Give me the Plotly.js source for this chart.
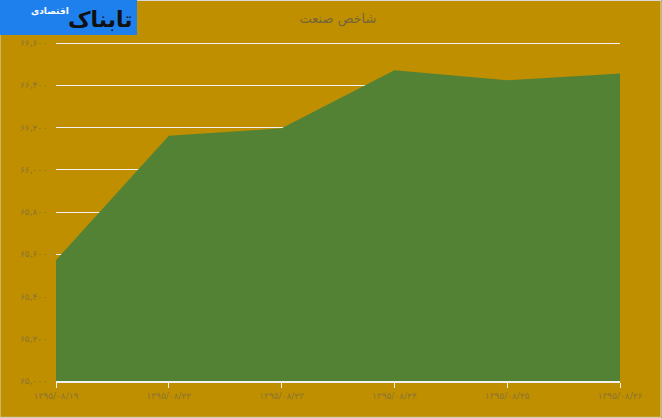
<!DOCTYPE html>
<html>
<head>
<meta charset="utf-8">
<script src="https://cdn.plot.ly/plotly-3.0.1.min.js"></script>
<style>
  html, body { margin: 0; padding: 0; }
  #myDiv { width: 662px; height: 418px; }
</style>
</head>
<body>
<div id="myDiv"></div>
<script>
var dates = ['۱۳۹۵/۰۸/۱۹', '۱۳۹۵/۰۸/۲۲', '۱۳۹۵/۰۸/۲۳', '۱۳۹۵/۰۸/۲۴', '۱۳۹۵/۰۸/۲۵', '۱۳۹۵/۰۸/۲۶'];
var index = [65572, 66161, 66196, 66471, 66424, 66456];
var yTicks = [65000, 65200, 65400, 65600, 65800, 66000, 66200, 66400, 66600];
var yTickText = ['۶۵,۰۰۰', '۶۵,۲۰۰', '۶۵,۴۰۰', '۶۵,۶۰۰', '۶۵,۸۰۰', '۶۶,۰۰۰', '۶۶,۲۰۰', '۶۶,۴۰۰', '۶۶,۶۰۰'];

var trace1 = {
  x: dates,
  y: index,
  type: 'scatter',
  mode: 'lines',
  fill: 'tozeroy',
  fillcolor: '#548235',
  line: {color: '#548235', width: 0},
  hoverinfo: 'x+y'
};

// plot area: x 56..620, y 39..381 px
var W = 564, H = 342;

var layout = {
  width: 662,
  height: 418,
  paper_bgcolor: '#BF8F00',
  plot_bgcolor: '#BF8F00',
  showlegend: false,
  margin: {l: 56, r: 42, t: 39, b: 37},
  title: {
    text: 'شاخص صنعت',
    font: {family: 'DejaVu Sans, sans-serif', size: 13, color: '#75643a'},
    x: 0.5,
    xref: 'paper',
    xanchor: 'center',
    y: 0.955,
    yanchor: 'middle'
  },
  xaxis: {
    type: 'category',
    range: [0, 5],
    showgrid: false,
    showline: true,
    linecolor: '#F2F2F2',
    linewidth: 1.5,
    ticks: 'outside',
    ticklen: 5,
    tickcolor: '#F2F2F2',
    tickfont: {family: 'DejaVu Sans, sans-serif', size: 9, color: '#8c7434'},
    zeroline: false
  },
  yaxis: {
    range: [65000, 66619],
    tickvals: yTicks,
    ticktext: yTickText,
    showgrid: true,
    gridcolor: '#F2F2F2',
    gridwidth: 1,
    showline: false,
    zeroline: false,
    ticks: '',
    ticklabelstandoff: 8,
    tickfont: {family: 'DejaVu Sans, sans-serif', size: 9, color: '#8c7434'}
  },
  shapes: [
    {type: 'rect', xref: 'paper', yref: 'paper', x0: -56/W, x1: 1 + 41/W, y0: -37/H + 0.002, y1: 1 + 38.5/H,
     line: {color: '#D9D9D9', width: 1}, fillcolor: 'rgba(0,0,0,0)', layer: 'below'},
    {type: 'rect', xref: 'paper', yref: 'paper', x0: -56/W, x1: 81/W, y0: 1 + 4/H, y1: 1 + 39/H,
     line: {width: 0}, fillcolor: '#1E80EC', layer: 'above'}
  ],
  annotations: [
    {xref: 'paper', yref: 'paper', x: 79/W, y: 1 + 20/H, xanchor: 'right', yanchor: 'middle',
     text: '<b>تابناک</b>', showarrow: false,
     font: {family: 'DejaVu Sans, sans-serif', size: 22, color: '#111111'}},
    {xref: 'paper', yref: 'paper', x: 15/W, y: 1 + 28/H, xanchor: 'right', yanchor: 'middle',
     text: '<b>اقتصادی</b>', showarrow: false,
     font: {family: 'DejaVu Sans, sans-serif', size: 9, color: '#FFFFFF'}}
  ]
};

Plotly.newPlot('myDiv', [trace1], layout, {displayModeBar: false});
</script>
</body>
</html>
